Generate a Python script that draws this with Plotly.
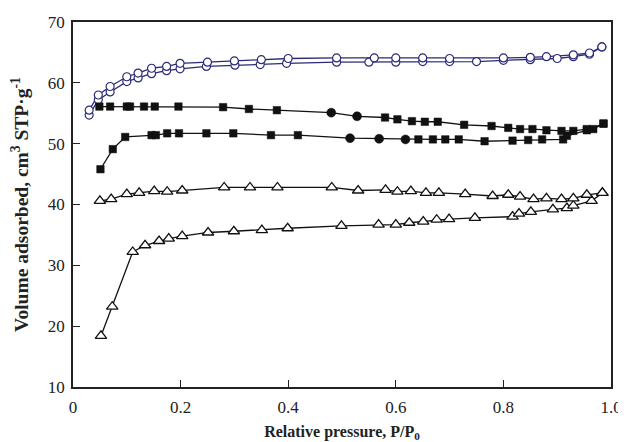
import plotly.graph_objects as go

# ---- Series A: open circles (navy), adsorption / desorption ----
a_ads_x = [0.03, 0.047, 0.069, 0.10, 0.121, 0.146, 0.174, 0.199, 0.248, 0.301, 0.348, 0.397,
           0.49, 0.55, 0.60, 0.65, 0.70, 0.75, 0.80, 0.85, 0.90, 0.93, 0.96, 0.983]
a_ads_y = [54.7, 57.2, 58.5, 60.2, 60.8, 61.5, 62.0, 62.3, 62.7, 62.9, 63.0, 63.2,
           63.4, 63.4, 63.4, 63.5, 63.5, 63.5, 63.7, 63.8, 64.0, 64.3, 64.7, 65.9]
a_des_x = [0.03, 0.047, 0.069, 0.10, 0.121, 0.146, 0.174, 0.199, 0.25, 0.30, 0.35, 0.40,
           0.49, 0.56, 0.60, 0.65, 0.70, 0.80, 0.85, 0.88, 0.93, 0.96, 0.983]
a_des_y = [55.5, 58.0, 59.4, 61.0, 61.6, 62.4, 62.7, 63.2, 63.4, 63.6, 63.8, 64.0,
           64.1, 64.1, 64.1, 64.1, 64.0, 64.1, 64.2, 64.3, 64.6, 64.9, 65.9]

# ---- Series B: filled squares (some points drawn as filled circles) ----
b_ads_sq_x = [0.051, 0.074, 0.097, 0.146, 0.154, 0.175, 0.197, 0.248, 0.298, 0.368, 0.418,
              0.642, 0.669, 0.692, 0.717, 0.765, 0.817, 0.846, 0.872, 0.911, 0.918, 0.955, 0.986]
b_ads_sq_y = [45.8, 49.1, 51.1, 51.4, 51.4, 51.7, 51.7, 51.7, 51.7, 51.4, 51.4,
              50.7, 50.7, 50.7, 50.7, 50.4, 50.5, 50.6, 50.7, 50.7, 51.3, 52.2, 53.3]
b_ads_ci_x = [0.515, 0.569, 0.618]
b_ads_ci_y = [50.9, 50.8, 50.7]
b_des_sq_x = [0.049, 0.069, 0.10, 0.106, 0.132, 0.152, 0.196, 0.279, 0.327, 0.379,
              0.58, 0.603, 0.63, 0.654, 0.678, 0.727, 0.778, 0.809, 0.831, 0.854, 0.88,
              0.908, 0.93, 0.955, 0.967, 0.986]
b_des_sq_y = [56.1, 56.1, 56.1, 56.1, 56.1, 56.1, 56.1, 56.0, 55.7, 55.5,
              54.3, 54.0, 53.7, 53.6, 53.6, 53.1, 52.9, 52.6, 52.4, 52.4, 52.2,
              52.1, 52.1, 52.4, 52.4, 53.3]
b_des_ci_x = [0.48, 0.528]
b_des_ci_y = [55.1, 54.5]

# ---- Series C: open triangles ----
c_ads_x = [0.052, 0.073, 0.111, 0.134, 0.16, 0.178, 0.203, 0.251, 0.299, 0.351, 0.399, 0.499,
           0.568, 0.60, 0.625, 0.651, 0.676, 0.699, 0.747, 0.817, 0.829, 0.851, 0.892, 0.918,
           0.93, 0.964, 0.984]
c_ads_y = [18.4, 23.2, 32.2, 33.3, 34.0, 34.4, 34.8, 35.4, 35.6, 35.8, 36.1, 36.5,
           36.7, 36.7, 37.0, 37.2, 37.5, 37.6, 37.8, 38.0, 38.5, 38.8, 39.2, 39.4,
           39.8, 40.6, 41.9]
c_des_x = [0.05, 0.071, 0.10, 0.123, 0.151, 0.175, 0.203, 0.281, 0.329, 0.38, 0.481,
           0.53, 0.581, 0.603, 0.628, 0.656, 0.68, 0.729, 0.78, 0.809, 0.831, 0.856, 0.88,
           0.908, 0.93, 0.955, 0.984]
c_des_y = [40.6, 40.9, 41.7, 41.9, 42.2, 42.1, 42.3, 42.8, 42.8, 42.8, 42.8,
           42.3, 42.4, 42.1, 42.2, 41.9, 41.9, 41.7, 41.4, 41.6, 41.3, 40.9, 41.0,
           40.9, 41.0, 41.6, 41.9]

x_ticks = [0, 0.2, 0.4, 0.6, 0.8, 1.0]
x_tick_text = ["0", "0.2", "0.4", "0.6", "0.8", "1.0"]
y_ticks = [10, 20, 30, 40, 50, 60, 70]

NAVY = "#2a2a78"
BLACK = "#111111"

fig = go.Figure()

def merged(xs1, ys1, xs2, ys2):
    pts = sorted(zip(xs1 + xs2, ys1 + ys2))
    return [p[0] for p in pts], [p[1] for p in pts]

# lines
for xs, ys, col in [
    (a_ads_x, a_ads_y, NAVY), (a_des_x, a_des_y, NAVY),
    (*merged(b_ads_sq_x, b_ads_sq_y, b_ads_ci_x, b_ads_ci_y), BLACK),
    (*merged(b_des_sq_x, b_des_sq_y, b_des_ci_x, b_des_ci_y), BLACK),
    (c_ads_x, c_ads_y, BLACK), (c_des_x, c_des_y, BLACK),
]:
    fig.add_trace(go.Scatter(x=xs, y=ys, mode="lines",
                             line=dict(color=col, width=1.3), showlegend=False,
                             hoverinfo="skip"))

# markers
for xs, ys in [(a_ads_x, a_ads_y), (a_des_x, a_des_y)]:
    fig.add_trace(go.Scatter(x=xs, y=ys, mode="markers", showlegend=False,
                             marker=dict(symbol="circle", size=8, color="white",
                                         line=dict(color=NAVY, width=1.2))))
for xs, ys in [(b_ads_sq_x, b_ads_sq_y), (b_des_sq_x, b_des_sq_y)]:
    fig.add_trace(go.Scatter(x=xs, y=ys, mode="markers", showlegend=False,
                             marker=dict(symbol="square", size=7.5, color=BLACK,
                                         line=dict(color=BLACK, width=0.5))))
for xs, ys in [(b_ads_ci_x, b_ads_ci_y), (b_des_ci_x, b_des_ci_y)]:
    fig.add_trace(go.Scatter(x=xs, y=ys, mode="markers", showlegend=False,
                             marker=dict(symbol="circle", size=9, color=BLACK,
                                         line=dict(color=BLACK, width=0.5))))
for xs, ys in [(c_ads_x, c_ads_y), (c_des_x, c_des_y)]:
    fig.add_trace(go.Scatter(x=xs, y=ys, mode="markers", showlegend=False,
                             marker=dict(symbol="triangle-up", size=10, color="white",
                                         line=dict(color=BLACK, width=1.3))))

font_fam = "Liberation Serif, Times New Roman, serif"
fig.update_layout(
    width=618, height=434,
    margin=dict(l=65, r=15, t=14, b=55),
    paper_bgcolor="white", plot_bgcolor="white",
    font=dict(family=font_fam, size=17, color="#222"),
    xaxis=dict(range=[0, 1.0], tickvals=x_ticks, ticktext=x_tick_text,
               ticks="inside", ticklen=7, tickwidth=1.2, tickcolor="#222",
               ticklabelstandoff=4, ticklabeloverflow="allow",
               showline=True, linecolor="#222", linewidth=1.5, mirror=True,
               showgrid=False, zeroline=False, automargin=False,
               title=dict(text="<b>Relative pressure, P/P<sub>0</sub></b>",
                          font=dict(size=16), standoff=10)),
    yaxis=dict(range=[10, 70], tickvals=y_ticks,
               ticks="inside", ticklen=7, tickwidth=1.2, tickcolor="#222",
               ticklabelstandoff=3,
               showline=True, linecolor="#222", linewidth=1.5, mirror=True,
               showgrid=False, zeroline=False, automargin=False,
               title=dict(text="<b>Volume adsorbed, cm<sup>3</sup> STP·g<sup>-1</sup></b>",
                          font=dict(size=19.5), standoff=14)),
)

fig.write_html("out.html")
